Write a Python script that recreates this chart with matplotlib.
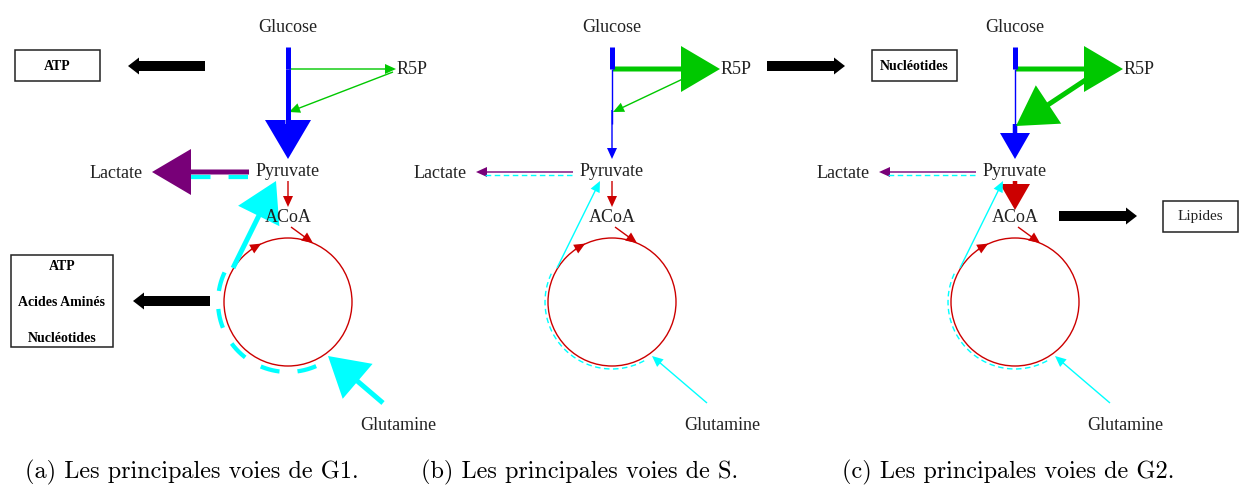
import matplotlib
matplotlib.use('Agg')
import matplotlib.pyplot as plt
import numpy as np
from matplotlib.patches import FancyArrow, Rectangle, Circle

plt.rcParams['lines.scale_dashes'] = False

# centre x of each panel (Glucose / Pyruvate column)
panel_x = [288, 612, 1015]
captions = ['(a) Les principales voies de G1.',
            '(b) Les principales voies de S.',
            '(c) Les principales voies de G2.']
caption_x = [192, 580, 1008]

# flux level of each pathway in each panel (1 = faible, 2 = moyen, 3 = fort)
glc_uptake = [3, 3, 3]
glyco_upper = [3, 1, 1]
glyco_lower = [3, 1, 2]
ppp_ox = [1, 3, 3]
ppp_back = [1, 1, 3]
lactate = [3, 1, 1]
pdh = [1, 1, 2]
gln_in = [3, 1, 1]
gln_to_pyr = [3, 1, 1]

# export boxes
export_texts = [['ATP'], ['ATP', 'Acides Aminés', 'Nucléotides'], ['Nucléotides'], ['Lipides']]

SHAFT = {1: 1.4, 2: 4.5, 3: 5}
HEAD_W = {1: 10, 2: 30, 3: 46}
HEAD_L = {1: 11, 2: 26, 3: 39}

BLUE = '#0000ff'
GREEN = '#00c800'
RED = '#cc0000'
PURPLE = '#780078'
CYAN = '#00ffff'

LABEL_FONT = dict(family='Liberation Serif', size=13, color='#222222')
BOX_FONT = dict(family='Liberation Serif', size=10, weight='bold', color='black')

fig = plt.figure(figsize=(12.39, 4.86), dpi=100)
ax = fig.add_axes([0, 0, 1, 1])
ax.set_xlim(0, 1239)
ax.set_ylim(486, 0)
ax.axis('off')


def flow(x0, y0, x1, y1, level, color):
    ax.add_patch(FancyArrow(x0, y0, x1 - x0, y1 - y0, width=SHAFT[level],
                            head_width=HEAD_W[level], head_length=HEAD_L[level],
                            length_includes_head=True, color=color, lw=0))


def segment(x0, y0, x1, y1, level, color):
    ax.plot([x0, x1], [y0, y1], color=color, lw=SHAFT[level] * 0.72,
            solid_capstyle='butt')


def block_arrow(x0, y, x1):
    ax.add_patch(FancyArrow(x0, y, x1 - x0, 0, width=10, head_width=17,
                            head_length=11, length_includes_head=True,
                            color='black', lw=0))


def box(x0, y0, x1, y1):
    ax.add_patch(Rectangle((x0, y0), x1 - x0, y1 - y0, fill=False,
                           ec='#222222', lw=1.1))


for i, x0 in enumerate(panel_x):
    # labels
    ax.text(x0, 27, 'Glucose', ha='center', va='center', **LABEL_FONT)
    ax.text(x0 + 109, 70, 'R5P', ha='left', va='center', **LABEL_FONT)
    ax.text(x0, 171, 'Pyruvate', ha='center', va='center', **LABEL_FONT)
    ax.text(x0 - 172, 173, 'Lactate', ha='center', va='center', **LABEL_FONT)
    ax.text(x0, 217, 'ACoA', ha='center', va='center', **LABEL_FONT)
    ax.text(x0 + 110, 425, 'Glutamine', ha='center', va='center', **LABEL_FONT)

    # glycolyse
    segment(x0, 47, x0, 69, glc_uptake[i], BLUE)
    segment(x0, 69, x0, 124, glyco_upper[i], BLUE)
    flow(x0, 124 if glyco_lower[i] > 1 else 110, x0, 159, glyco_lower[i], BLUE)

    # voie des pentoses
    flow(x0 + 1, 69, x0 + 108, 69, ppp_ox[i], GREEN)
    sx = x0 + 108 - (HEAD_L[ppp_ox[i]] - 6 if ppp_ox[i] > 1 else 3)
    sy = 69 + (8 if ppp_ox[i] > 1 else 3)
    ey = 126 if ppp_back[i] > 1 else 112
    flow(sx, sy, x0 + 1, ey, ppp_back[i], GREEN)

    # lactate
    flow(x0 - 39, 172, x0 - 136, 172, lactate[i], PURPLE)
    lw_c = SHAFT[gln_to_pyr[i]] * 0.72 * (0.85 if gln_to_pyr[i] > 1 else 1)
    dash = (0, (14, 13)) if gln_to_pyr[i] > 1 else (0, (4, 2.5))
    yc = 177 if gln_to_pyr[i] > 1 else 175.5
    ax.plot([x0 - 40, x0 - 136 + HEAD_L[lactate[i]] - 2], [yc, yc],
            color=CYAN, lw=lw_c, linestyle=dash, dash_capstyle='butt')

    # PDH
    flow(x0, 181, x0, 210 if pdh[i] > 1 else 207, pdh[i], RED)
    flow(x0 + 3, 227, x0 + 25, 243, 1, RED)

    # cycle de Krebs
    cy, r = 302, 64
    ax.add_patch(Circle((x0, cy), r, fill=False, ec=RED, lw=1.0))
    th = np.radians(120)
    px, py = x0 + r * np.cos(th), cy - r * np.sin(th)
    tx, ty = np.sin(th), np.cos(th)
    flow(px - 6 * tx, py - 6 * ty, px + 6 * tx, py + 6 * ty, 1, RED)

    # glutaminolyse (arc pointille)
    rr = 70 if gln_to_pyr[i] > 1 else 67
    ta = np.radians(np.linspace(155, 300, 200))
    ax.plot(x0 + rr * np.cos(ta), cy - rr * np.sin(ta), color=CYAN,
            lw=lw_c, linestyle=dash, dash_capstyle='butt')
    flow(x0 - 55, 268, x0 - 12, 181, gln_to_pyr[i], CYAN)
    flow(x0 + 95, 403, x0 + 40, 356, gln_in[i], CYAN)

    ax.text(caption_x[i], 478, captions[i], ha='center', va='baseline',
            family='cmr10', size=17.5, color='black')

# exports
block_arrow(205, 66, 128)
box(15, 50, 100, 81)
ax.text(57.5, 66, export_texts[0][0], ha='center', va='center', **BOX_FONT)

block_arrow(210, 301, 133)
box(11, 255, 113, 347)
for txt, y in zip(export_texts[1], [266, 302, 338]):
    ax.text(62, y, txt, ha='center', va='center', **BOX_FONT)

block_arrow(767, 66, 845)
box(872, 50, 957, 81)
ax.text(914.5, 66, export_texts[2][0], ha='center', va='center', **BOX_FONT)

block_arrow(1059, 216, 1137)
box(1163, 201, 1238, 232)
ax.text(1200, 216, export_texts[3][0], ha='center', va='center',
        family='Liberation Serif', size=11, color='#222222')

fig.savefig('out.png', dpi=100)
